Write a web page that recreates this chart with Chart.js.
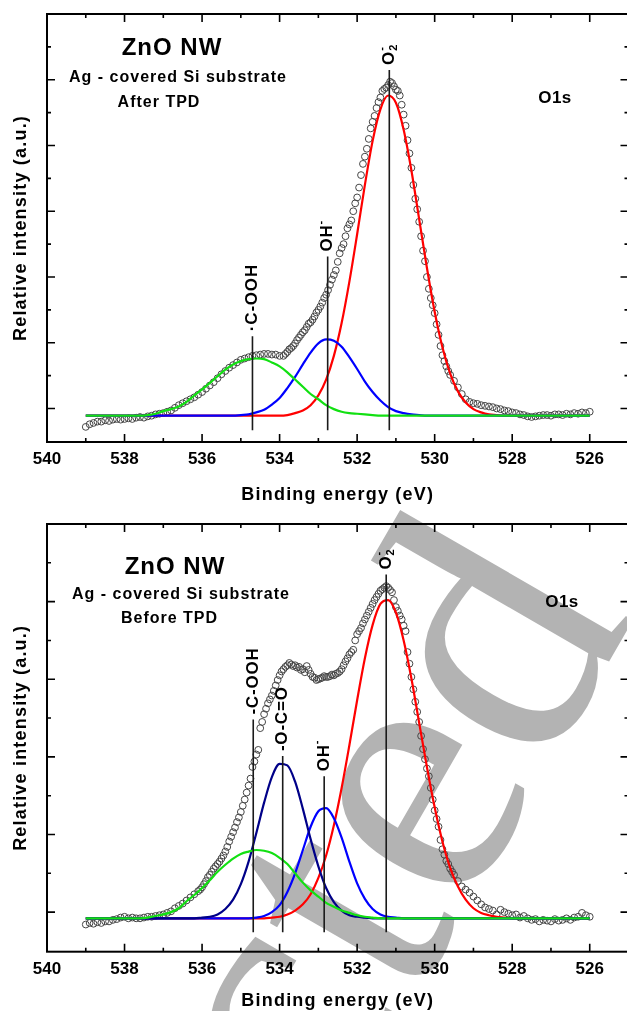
<!DOCTYPE html>
<html>
<head>
<meta charset="utf-8">
<title>ZnO NW O1s</title>
<script src="https://cdn.jsdelivr.net/npm/chart.js@4.4.0/dist/chart.umd.min.js"></script>
<style>
  html, body { margin: 0; padding: 0; background: #fff; overflow: hidden; width: 627px; height: 1011px; }
  canvas, svg { position: absolute; left: 0; }
  #mark { top: 0; }
  #after { top: 0; }
  #before { top: 505px; }
</style>
</head>
<body>
<svg id="mark" width="627" height="1011" xmlns="http://www.w3.org/2000/svg">
  <text id="stampText" font-family="'Liberation Serif', 'DejaVu Serif', 'Noto Serif', serif" font-size="370" fill="#b3b3b3">Retracted</text>
</svg>
<canvas id="after" width="640" height="505"></canvas>
<canvas id="before" width="640" height="506"></canvas>
<script>
// binding energy of the measured points (eV), 0.1 eV scan
const scanEnergy = [
  539.0, 538.9, 538.8, 538.7, 538.6, 538.5, 538.4, 538.3, 538.2, 538.1,
  538.0, 537.9, 537.8, 537.7, 537.6, 537.5, 537.4, 537.3, 537.2, 537.1,
  537.0, 536.9, 536.8, 536.7, 536.6, 536.5, 536.4, 536.3, 536.2, 536.1,
  536.0, 535.9, 535.8, 535.7, 535.6, 535.5, 535.4, 535.3, 535.2, 535.1,
  535.0, 534.9, 534.8, 534.7, 534.6, 534.5, 534.4, 534.3, 534.2, 534.1,
  534.0, 533.9, 533.8, 533.7, 533.6, 533.5, 533.4, 533.3, 533.2, 533.1,
  533.0, 532.9, 532.8, 532.7, 532.6, 532.5, 532.4, 532.3, 532.2, 532.1,
  532.0, 531.9, 531.8, 531.7, 531.6, 531.5, 531.4, 531.3, 531.2, 531.1,
  531.0, 530.9, 530.8, 530.7, 530.6, 530.5, 530.4, 530.3, 530.2, 530.1,
  530.0, 529.9, 529.8, 529.7, 529.6, 529.5, 529.4, 529.3, 529.2, 529.1,
  529.0, 528.9, 528.8, 528.7, 528.6, 528.5, 528.4, 528.3, 528.2, 528.1,
  528.0, 527.9, 527.8, 527.7, 527.6, 527.5, 527.4, 527.3, 527.2, 527.1,
  527.0, 526.9, 526.8, 526.7, 526.6, 526.5, 526.4, 526.3, 526.2, 526.1,
  526.0
];

// O1s counts after TPD (a.u.)
const afterScan = [
  0.72, 0.76, 0.78, 0.80, 0.80, 0.82, 0.81, 0.83, 0.84, 0.83,
  0.84, 0.85, 0.84, 0.86, 0.87, 0.86, 0.88, 0.89, 0.91, 0.92,
  0.93, 0.95, 0.97, 1.01, 1.05, 1.08, 1.11, 1.14, 1.17, 1.21,
  1.25, 1.30, 1.35, 1.40, 1.46, 1.52, 1.57, 1.62, 1.66, 1.70,
  1.74, 1.76, 1.78, 1.80, 1.81, 1.82, 1.83, 1.83, 1.82, 1.82,
  1.80, 1.80, 1.86, 1.92, 1.99, 2.08, 2.16, 2.24, 2.31, 2.40,
  2.50, 2.61, 2.73, 2.88, 3.03, 3.23, 3.44, 3.62, 3.80, 4.00,
  4.21, 4.55, 4.83, 5.10, 5.36, 5.57, 5.73, 5.86, 5.92, 5.95,
  5.85, 5.76, 5.47, 5.08, 4.66, 4.19, 3.84, 3.40, 3.00, 2.68,
  2.45, 2.12, 1.81, 1.64, 1.51, 1.42, 1.32, 1.22, 1.14, 1.10,
  1.08, 1.07, 1.05, 1.04, 1.03, 1.02, 1.00, 0.99, 0.97, 0.96,
  0.94, 0.93, 0.91, 0.90, 0.88, 0.87, 0.88, 0.89, 0.90, 0.90,
  0.89, 0.91, 0.91, 0.90, 0.92, 0.91, 0.93, 0.92, 0.94, 0.93,
  0.95
];

// extra points recorded at the half steps across the main rise (after TPD)
const afterHalfEnergy = [
  533.85, 533.75, 533.65, 533.55, 533.45, 533.35, 533.25, 533.15, 533.05, 532.95,
  532.85, 532.75, 532.65, 532.55, 532.45, 532.35, 532.25, 532.15, 532.05, 531.95,
  531.85, 531.75, 531.65, 531.55, 531.45, 531.35, 531.25, 531.15, 531.05, 530.95,
  530.85, 530.75, 530.65, 530.55, 530.45, 530.35, 530.25, 530.15, 530.05, 529.95,
  529.85, 529.75, 529.65
];
const afterHalfScan = [
  1.83, 1.90, 1.95, 2.04, 2.12, 2.19, 2.29, 2.35, 2.46, 2.55,
  2.68, 2.80, 2.96, 3.10, 3.36, 3.50, 3.74, 3.86, 4.12, 4.36,
  4.72, 4.95, 5.26, 5.45, 5.66, 5.83, 5.88, 5.97, 5.90, 5.83,
  5.62, 5.30, 4.88, 4.40, 4.03, 3.62, 3.24, 2.82, 2.57, 2.28,
  1.95, 1.72, 1.57
];

// O1s counts before TPD (a.u.)
const beforeScan = [
  0.84, 0.86, 0.85, 0.87, 0.86, 0.88, 0.88, 0.90, 0.91, 0.93,
  0.94, 0.92, 0.93, 0.92, 0.92, 0.93, 0.94, 0.94, 0.95, 0.96,
  0.97, 0.99, 1.01, 1.05, 1.08, 1.11, 1.15, 1.19, 1.23, 1.27,
  1.32, 1.40, 1.48, 1.56, 1.62, 1.69, 1.78, 1.91, 2.03, 2.16,
  2.29, 2.45, 2.63, 2.87, 3.03, 3.37, 3.55, 3.69, 3.79, 3.92,
  4.05, 4.13, 4.18, 4.19, 4.18, 4.16, 4.13, 4.17, 4.07, 4.02,
  4.00, 4.02, 4.03, 4.04, 4.05, 4.08, 4.13, 4.23, 4.32, 4.38,
  4.58, 4.66, 4.77, 4.87, 4.97, 5.06, 5.14, 5.18, 5.18, 5.12,
  4.93, 4.82, 4.69, 4.35, 4.03, 3.71, 3.45, 3.10, 2.85, 2.60,
  2.31, 2.10, 1.81, 1.66, 1.56, 1.48, 1.40, 1.33, 1.29, 1.25,
  1.20, 1.15, 1.10, 1.06, 1.04, 1.02, 0.97, 1.03, 1.00, 0.98,
  0.96, 0.97, 0.93, 0.95, 0.92, 0.90, 0.91, 0.88, 0.90, 0.89,
  0.88, 0.91, 0.89, 0.90, 0.92, 0.90, 0.93, 0.94, 0.99, 0.96,
  0.94
];

// extra points recorded at the half steps (before TPD)
const beforeHalfEnergy = [
  536.05, 535.95, 535.85, 535.75, 535.65, 535.55, 535.45, 535.35, 535.25, 535.15,
  535.05, 534.95, 534.85, 534.75, 534.65, 534.55, 534.45, 534.35, 534.25, 534.15,
  534.05, 533.95, 533.85, 533.75, 533.65, 533.55, 533.45, 533.35, 533.25, 533.15,
  533.05, 532.95, 532.85, 532.75, 532.65, 532.55, 532.45, 532.35, 532.25, 532.15,
  532.05, 531.95, 531.85, 531.75, 531.65, 531.55, 531.45, 531.35, 531.25, 531.15,
  531.05, 530.95, 530.85, 530.75, 530.65, 530.55, 530.45, 530.35, 530.25, 530.15,
  530.05, 529.95, 529.85, 529.75, 529.65, 529.55
];
const beforeHalfScan = [
  1.29, 1.36, 1.45, 1.52, 1.59, 1.65, 1.73, 1.84, 1.97, 2.09,
  2.22, 2.37, 2.54, 2.72, 2.94, 3.09, 3.45, 3.62, 3.74, 3.85,
  3.99, 4.10, 4.16, 4.21, 4.17, 4.15, 4.12, 4.09, 4.12, 4.03,
  3.99, 4.01, 4.04, 4.03, 4.06, 4.07, 4.10, 4.18, 4.27, 4.35,
  4.50, 4.62, 4.72, 4.82, 4.92, 5.02, 5.10, 5.16, 5.20, 5.15,
  5.02, 4.88, 4.77, 4.62, 4.20, 3.87, 3.58, 3.27, 2.97, 2.75,
  2.45, 2.20, 1.93, 1.74, 1.62, 1.52
];

// energy grid of the fitted components (eV)
const fitEnergy = [
  539.0, 538.8, 538.6, 538.4, 538.2, 538.0, 537.8, 537.6, 537.4, 537.2,
  537.0, 536.8, 536.6, 536.4, 536.2, 536.0, 535.8, 535.6, 535.4, 535.2,
  535.0, 534.8, 534.6, 534.4, 534.2, 534.0, 533.8, 533.6, 533.4, 533.2,
  533.0, 532.8, 532.6, 532.4, 532.2, 532.0, 531.8, 531.6, 531.4, 531.2,
  531.0, 530.8, 530.6, 530.4, 530.2, 530.0, 529.8, 529.6, 529.4, 529.2,
  529.0, 528.8, 528.6, 528.4, 528.2, 528.0, 527.8, 527.6, 527.4, 527.2,
  527.0, 526.8, 526.6, 526.4, 526.2, 526.0
];

// after TPD: fitted components
const afterO2 = [
  0.89, 0.89, 0.89, 0.89, 0.89, 0.89, 0.89, 0.89, 0.89, 0.89,
  0.89, 0.89, 0.89, 0.89, 0.89, 0.89, 0.89, 0.89, 0.89, 0.89,
  0.89, 0.89, 0.89, 0.89, 0.89, 0.89, 0.90, 0.93, 0.97, 1.05,
  1.20, 1.44, 1.80, 2.30, 2.93, 3.65, 4.40, 5.07, 5.55, 5.76,
  5.65, 5.24, 4.62, 3.88, 3.14, 2.47, 1.93, 1.53, 1.26, 1.09,
  0.99, 0.94, 0.91, 0.90, 0.89, 0.89, 0.89, 0.89, 0.89, 0.89,
  0.89, 0.89, 0.89, 0.89, 0.89, 0.89
];
const afterOH = [
  0.89, 0.89, 0.89, 0.89, 0.89, 0.89, 0.89, 0.89, 0.89, 0.89,
  0.89, 0.89, 0.89, 0.89, 0.89, 0.89, 0.89, 0.89, 0.89, 0.89,
  0.90, 0.91, 0.94, 0.98, 1.06, 1.16, 1.31, 1.48, 1.67, 1.85,
  1.99, 2.05, 2.03, 1.94, 1.78, 1.60, 1.41, 1.25, 1.12, 1.02,
  0.96, 0.93, 0.91, 0.90, 0.89, 0.89, 0.89, 0.89, 0.89, 0.89,
  0.89, 0.89, 0.89, 0.89, 0.89, 0.89, 0.89, 0.89, 0.89, 0.89,
  0.89, 0.89, 0.89, 0.89, 0.89, 0.89
];
const afterCOOH = [
  0.89, 0.89, 0.89, 0.89, 0.89, 0.89, 0.89, 0.89, 0.90, 0.92,
  0.96, 0.99, 1.03, 1.10, 1.20, 1.29, 1.39, 1.49, 1.59, 1.67,
  1.72, 1.75, 1.76, 1.75, 1.70, 1.64, 1.55, 1.44, 1.33, 1.22,
  1.14, 1.05, 0.99, 0.95, 0.93, 0.92, 0.91, 0.90, 0.89, 0.89,
  0.89, 0.89, 0.89, 0.89, 0.89, 0.89, 0.89, 0.89, 0.89, 0.89,
  0.89, 0.89, 0.89, 0.89, 0.89, 0.89, 0.89, 0.89, 0.89, 0.89,
  0.89, 0.89, 0.89, 0.89, 0.89, 0.89
];

// before TPD: fitted components
const beforeO2 = [
  0.92, 0.92, 0.92, 0.92, 0.92, 0.92, 0.92, 0.92, 0.92, 0.92,
  0.92, 0.92, 0.92, 0.92, 0.92, 0.92, 0.92, 0.92, 0.92, 0.92,
  0.92, 0.92, 0.92, 0.92, 0.93, 0.94, 0.97, 1.02, 1.10, 1.23,
  1.44, 1.73, 2.12, 2.60, 3.15, 3.73, 4.27, 4.70, 4.97, 5.02,
  4.86, 4.50, 4.01, 3.44, 2.87, 2.35, 1.91, 1.57, 1.33, 1.16,
  1.05, 0.99, 0.96, 0.94, 0.93, 0.92, 0.92, 0.92, 0.92, 0.92,
  0.92, 0.92, 0.92, 0.92, 0.92, 0.92
];
const beforeOCO = [
  0.92, 0.92, 0.92, 0.92, 0.92, 0.92, 0.92, 0.92, 0.92, 0.92,
  0.92, 0.92, 0.92, 0.92, 0.92, 0.93, 0.94, 0.97, 1.04, 1.16,
  1.36, 1.65, 2.02, 2.41, 2.74, 2.91, 2.89, 2.68, 2.33, 1.94,
  1.59, 1.31, 1.13, 1.02, 0.96, 0.94, 0.93, 0.92, 0.92, 0.92,
  0.92, 0.92, 0.92, 0.92, 0.92, 0.92, 0.92, 0.92, 0.92, 0.92,
  0.92, 0.92, 0.92, 0.92, 0.92, 0.92, 0.92, 0.92, 0.92, 0.92,
  0.92, 0.92, 0.92, 0.92, 0.92, 0.92
];
const beforeOH = [
  0.92, 0.92, 0.92, 0.92, 0.92, 0.92, 0.92, 0.92, 0.92, 0.92,
  0.92, 0.92, 0.92, 0.92, 0.92, 0.92, 0.92, 0.92, 0.92, 0.92,
  0.92, 0.92, 0.93, 0.95, 1.00, 1.09, 1.26, 1.50, 1.80, 2.10,
  2.30, 2.34, 2.21, 1.96, 1.65, 1.37, 1.17, 1.04, 0.97, 0.94,
  0.93, 0.92, 0.92, 0.92, 0.92, 0.92, 0.92, 0.92, 0.92, 0.92,
  0.92, 0.92, 0.92, 0.92, 0.92, 0.92, 0.92, 0.92, 0.92, 0.92,
  0.92, 0.92, 0.92, 0.92, 0.92, 0.92
];
const beforeCOOH = [
  0.92, 0.92, 0.92, 0.92, 0.92, 0.92, 0.92, 0.92, 0.93, 0.95,
  0.97, 1.00, 1.05, 1.14, 1.22, 1.31, 1.41, 1.52, 1.61, 1.69,
  1.75, 1.78, 1.80, 1.79, 1.76, 1.70, 1.62, 1.50, 1.38, 1.28,
  1.20, 1.12, 1.07, 1.02, 0.99, 0.96, 0.94, 0.93, 0.92, 0.92,
  0.92, 0.92, 0.92, 0.92, 0.92, 0.92, 0.92, 0.92, 0.92, 0.92,
  0.92, 0.92, 0.92, 0.92, 0.92, 0.92, 0.92, 0.92, 0.92, 0.92,
  0.92, 0.92, 0.92, 0.92, 0.92, 0.92
];

// peak position markers: energy, top of the marker, label parts
const afterPeakEnergy = [534.70, 532.76, 531.17];
const afterPeakTop = [2.10, 3.31, 6.15];
const afterPeakName = ['\u00b7C-OOH', 'OH', 'O'];
const afterPeakSup = ['', '-', '-'];
const afterPeakSub = ['', '', '2'];
const afterPeakFoot = 0.67;

const beforePeakEnergy = [534.68, 533.92, 532.85, 531.25];
const beforePeakTop = [3.48, 3.01, 2.75, 5.35];
const beforePeakName = ['-C-OOH', '-O-C=O', 'OH', 'O'];
const beforePeakSup = ['', '', '-', '-'];
const beforePeakSub = ['', '', '', '2'];
const beforePeakFoot = 0.74;

const FONT = '"Liberation Sans", Arial, Helvetica, sans-serif';
Chart.defaults.font.family = FONT;

function pairs(xs, ys) {
  return xs.map((v, i) => ({ x: v, y: ys[i] }));
}

function fitLine(values, color, order) {
  return {
    type: 'line',
    data: pairs(fitEnergy, values),
    borderColor: color,
    borderWidth: 2.2,
    pointRadius: 0,
    cubicInterpolationMode: 'monotone',
    fill: false,
    order: order
  };
}

function markerLines(energy, top, foot) {
  return energy.map((e, i) => ({
    type: 'line',
    data: [{ x: e, y: foot }, { x: e, y: top[i] }],
    borderColor: '#1a1a1a',
    borderWidth: 1.6,
    pointRadius: 0,
    fill: false,
    order: 0
  }));
}

function drawText(ctx, t) {
  ctx.save();
  ctx.font = 'bold ' + t.size + 'px ' + FONT;
  ctx.letterSpacing = (t.spacing || 0) + 'px';
  ctx.fillStyle = '#000';
  ctx.textAlign = 'center';
  ctx.textBaseline = 'alphabetic';
  ctx.translate(t.x, t.y);
  if (t.rotate) ctx.rotate(-Math.PI / 2);
  ctx.fillText(t.text, 0, 0);
  ctx.restore();
}

// frame with inward ticks, peak labels and text annotations
const panelDecor = {
  id: 'panelDecor',
  afterDatasetsDraw(chart, args, opts) {
    const { ctx, scales: { x, y } } = chart;
    ctx.save();
    ctx.fillStyle = '#000';
    opts.peakEnergy.forEach((e, i) => {
      const px = x.getPixelForValue(e);
      const py = y.getPixelForValue(opts.peakTop[i]) - 5;
      ctx.save();
      ctx.translate(px, py);
      ctx.rotate(-Math.PI / 2);
      ctx.textAlign = 'left';
      ctx.textBaseline = 'middle';
      ctx.font = 'bold 17px ' + FONT;
      ctx.letterSpacing = '0.8px';
      ctx.fillText(opts.peakName[i], 0, 0);
      const w = ctx.measureText(opts.peakName[i]).width;
      ctx.font = 'bold 11px ' + FONT;
      ctx.letterSpacing = '0px';
      if (opts.peakSub[i]) ctx.fillText(opts.peakSub[i], w, 5);
      if (opts.peakSup[i]) ctx.fillText(opts.peakSup[i], w, -7);
      ctx.restore();
    });
    ctx.restore();
  },
  afterDraw(chart, args, opts) {
    const { ctx, chartArea: a, scales: { x, y } } = chart;
    ctx.save();
    ctx.strokeStyle = '#000';
    ctx.lineWidth = 2;
    ctx.strokeRect(a.left, a.top, a.right - a.left, a.bottom - a.top);

    ctx.lineWidth = 1.6;
    ctx.beginPath();
    for (let e = 526; e < 540; e++) {
      const px = x.getPixelForValue(e);
      const len = e % 2 === 0 ? 8 : 4;
      ctx.moveTo(px, a.bottom); ctx.lineTo(px, a.bottom - len);
      ctx.moveTo(px, a.top); ctx.lineTo(px, a.top + len);
    }
    for (let v = 1; v < y.max; v += 0.5) {
      const py = y.getPixelForValue(v);
      const len = Number.isInteger(v) ? 8 : 4;
      ctx.moveTo(a.left, py); ctx.lineTo(a.left + len, py);
      ctx.moveTo(a.right, py); ctx.lineTo(a.right - len, py);
    }
    ctx.stroke();
    ctx.restore();

    opts.notes.forEach(t => drawText(ctx, t));
    drawText(ctx, { text: 'Binding energy (eV)', x: (a.left + a.right) / 2, y: opts.xTitleY, size: 18, spacing: 1.2 });
    drawText(ctx, { text: 'Relative intensity (a.u.)', x: 26, y: (a.top + a.bottom) / 2, size: 18, spacing: 1.2, rotate: true });
  }
};

function buildPanel(id, cfg) {
  const points = pairs(scanEnergy, cfg.scan).concat(pairs(cfg.halfEnergy, cfg.halfScan));
  const datasets = [
    {
      type: 'scatter',
      data: points,
      pointRadius: 3.4,
      pointBorderWidth: 1,
      pointBorderColor: '#454545',
      pointBackgroundColor: 'rgba(255,255,255,0)',
      showLine: false,
      order: 9
    }
  ].concat(cfg.fits, markerLines(cfg.peakEnergy, cfg.peakTop, cfg.peakFoot));

  return new Chart(document.getElementById(id), {
    type: 'scatter',
    data: { datasets },
    options: {
      responsive: false,
      animation: false,
      devicePixelRatio: 1,
      layout: { padding: { top: cfg.padTop, right: 11.5, left: 0, bottom: 0 } },
      plugins: {
        legend: { display: false },
        tooltip: { enabled: false },
        panelDecor: {
          peakEnergy: cfg.peakEnergy,
          peakTop: cfg.peakTop,
          peakName: cfg.peakName,
          peakSup: cfg.peakSup,
          peakSub: cfg.peakSub,
          notes: cfg.notes,
          xTitleY: cfg.xTitleY
        }
      },
      scales: {
        x: {
          type: 'linear',
          reverse: true,
          min: 525,
          max: 540,
          afterFit: s => { s.height = cfg.xHeight; },
          grid: { display: false, drawTicks: false },
          border: { display: false },
          ticks: {
            stepSize: 1,
            autoSkip: false,
            maxRotation: 0,
            padding: 7,
            color: '#000',
            font: { size: 17, weight: 'bold' },
            callback: v => (v % 2 === 0 ? String(v) : '')
          }
        },
        y: {
          type: 'linear',
          min: 0.49,
          max: cfg.yMax,
          afterFit: s => { s.width = 47; },
          grid: { display: false, drawTicks: false },
          border: { display: false },
          ticks: { display: false }
        }
      }
    },
    plugins: [panelDecor]
  });
}

buildPanel('after', {
  scan: afterScan,
  halfEnergy: afterHalfEnergy,
  halfScan: afterHalfScan,
  fits: [
    fitLine(afterCOOH, '#12e012', 1),
    fitLine(afterOH, '#0000ff', 3),
    fitLine(afterO2, '#ff0000', 4)
  ],
  peakEnergy: afterPeakEnergy,
  peakTop: afterPeakTop,
  peakFoot: afterPeakFoot,
  peakName: afterPeakName,
  peakSup: afterPeakSup,
  peakSub: afterPeakSub,
  padTop: 14,
  xHeight: 63,
  yMax: 7.0,
  xTitleY: 500,
  notes: [
    { text: 'ZnO NW', x: 172, y: 55, size: 24, spacing: 1 },
    { text: 'Ag - covered Si substrate', x: 178, y: 81.7, size: 16, spacing: 1 },
    { text: 'After TPD', x: 159, y: 106.7, size: 16, spacing: 1 },
    { text: 'O1s', x: 555, y: 103.3, size: 17, spacing: 0.5 }
  ]
});

buildPanel('before', {
  scan: beforeScan,
  halfEnergy: beforeHalfEnergy,
  halfScan: beforeHalfScan,
  fits: [
    fitLine(beforeCOOH, '#12e012', 1),
    fitLine(beforeOCO, '#000088', 2),
    fitLine(beforeOH, '#0000ff', 3),
    fitLine(beforeO2, '#ff0000', 4)
  ],
  peakEnergy: beforePeakEnergy,
  peakTop: beforePeakTop,
  peakFoot: beforePeakFoot,
  peakName: beforePeakName,
  peakSup: beforePeakSup,
  peakSub: beforePeakSub,
  padTop: 19,
  xHeight: 59.3,
  yMax: 6.0,
  xTitleY: 501,
  notes: [
    { text: 'ZnO NW', x: 175, y: 69, size: 24, spacing: 1 },
    { text: 'Ag - covered Si substrate', x: 181, y: 94.3, size: 16, spacing: 1 },
    { text: 'Before TPD', x: 169.5, y: 118.3, size: 16, spacing: 1 },
    { text: 'O1s', x: 562, y: 101.7, size: 17, spacing: 0.5 }
  ]
});

// grey "Retracted" stamp behind both panels, placed by the centre of its
// second-to-last letter and turned 60 degrees anticlockwise
(function placeStamp() {
  const stamp = document.getElementById('stampText');
  const ax = 428, ay = 805, size = 370;
  const lead = stamp.getSubStringLength(0, 7) + stamp.getSubStringLength(7, 1) / 2;
  stamp.setAttribute('x', ax - lead);
  stamp.setAttribute('y', ay + size * 0.23);
  stamp.setAttribute('transform', 'rotate(-60 ' + ax + ' ' + ay + ')');
})();
</script>
</body>
</html>
